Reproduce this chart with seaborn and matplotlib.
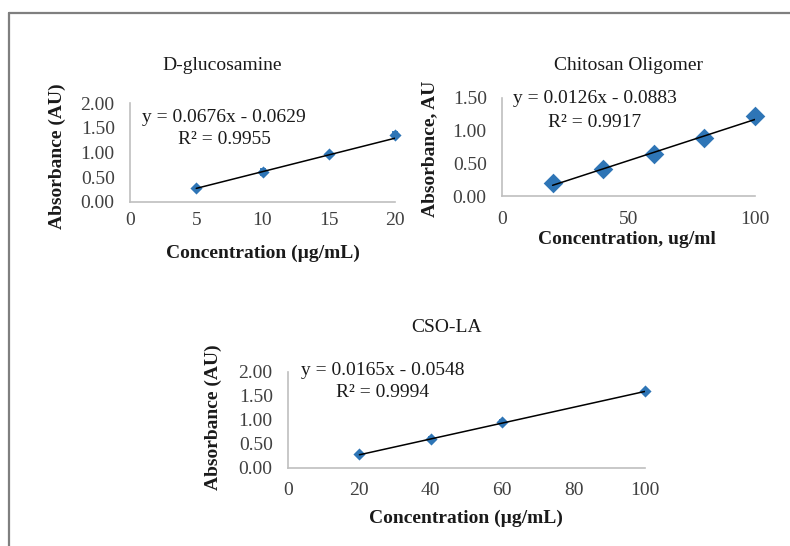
import numpy as np
import pandas as pd
import matplotlib
matplotlib.use("Agg")
import matplotlib.pyplot as plt
from matplotlib.lines import Line2D
import seaborn as sns

# ---------------- data ----------------
glc_conc = [5, 10, 15, 20]
glc_abs = [0.28, 0.60, 0.96, 1.36]
glc_err = [0.03, 0.06, 0.03, 0.06]
glc_slope, glc_icpt, glc_r2 = 0.0676, -0.0629, 0.9955

cso_conc = [20, 40, 60, 80, 100]
cso_abs = [0.20, 0.41, 0.65, 0.89, 1.22]
cso_err = [0.03, 0.05, 0.04, 0.06, 0.03]
cso_slope, cso_icpt, cso_r2 = 0.0126, -0.0883, 0.9917

csola_conc = [20, 40, 60, 100]
csola_abs = [0.29, 0.61, 0.96, 1.60]
csola_err = [0.02, 0.03, 0.03, 0.02]
csola_slope, csola_icpt, csola_r2 = 0.0165, -0.0548, 0.9994

titles = ["D-glucosamine", "Chitosan Oligomer", "CSO-LA"]
ylabels = ["Absorbance (AU)", "Absorbance, AU", "Absorbance (AU)"]
xlabels = ["Concentration (µg/mL)", "Concentration, ug/ml", "Concentration (µg/mL)"]
xticks1 = [0, 5, 10, 15, 20]
xticks2 = [0, 50, 100]
xticks3 = [0, 20, 40, 60, 80, 100]
yticks1 = [0, 0.5, 1.0, 1.5, 2.0]
yticks2 = [0, 0.5, 1.0, 1.5]
yticks3 = [0, 0.5, 1.0, 1.5, 2.0]

# ---------------- style ----------------
sns.set_theme(style="white")
plt.rcParams["font.family"] = ["Liberation Serif", "DejaVu Serif"]

W, H = 790, 546
DPI = 100
fig = plt.figure(figsize=(W / DPI, H / DPI), dpi=DPI)
fig.patch.set_facecolor("white")

BLUE = "#2E75B6"
AXC = "#BFBFBF"
FS = 14
TXT = "#1a1a1a"


def px_axes(left, right, top, bottom):
    return fig.add_axes([left / W, 1 - bottom / H, (right - left) / W, (bottom - top) / H])


def ftext(x, y, s, **kw):
    fig.text(x / W, 1 - y / H, s, **kw)


def panel(ax, conc, absb, err, slope, icpt, r2, xlim, ylim, xt, yt,
          msize, eqpos, r2pos, xpad, ypad):
    df = pd.DataFrame({"conc": conc, "abs": absb})
    xs = np.array([min(conc), max(conc)], dtype=float)
    fit = pd.DataFrame({"conc": xs, "abs": slope * xs + icpt})
    eb = ax.errorbar(conc, absb, yerr=err, fmt="none", ecolor=BLUE, elinewidth=1.3,
                     capsize=2.5, capthick=1.3, zorder=2)
    for art in eb.lines[1] + eb.lines[2]:
        art.set_clip_on(False)
    sns.scatterplot(data=df, x="conc", y="abs", ax=ax, marker="D", s=msize,
                    color=BLUE, edgecolor=BLUE, linewidth=0, zorder=3, legend=False,
                    clip_on=False)
    sns.lineplot(data=fit, x="conc", y="abs", ax=ax, color="black", linewidth=1.1,
                 zorder=4, legend=False)
    ax.set_xlim(*xlim)
    ax.set_ylim(*ylim)
    ax.set_xticks(xt)
    ax.set_xticklabels([str(v) for v in xt])
    ax.set_yticks(yt)
    ax.set_yticklabels([f"{v:.2f}" for v in yt])
    ax.set_xlabel("")
    ax.set_ylabel("")
    for s in ["top", "right"]:
        ax.spines[s].set_visible(False)
    for s in ["left", "bottom"]:
        ax.spines[s].set_color(AXC)
        ax.spines[s].set_linewidth(1.2)
    ax.tick_params(axis="x", length=0, pad=xpad, labelsize=FS, colors="#404040")
    ax.tick_params(axis="y", length=0, pad=ypad, labelsize=FS, colors="#404040")
    ax.set_facecolor("none")
    sign = "-" if icpt < 0 else "+"
    ax.text(eqpos[0], eqpos[1], f"y = {slope:.4f}x {sign} {abs(icpt):.4f}",
            transform=ax.transAxes, ha="center", va="center", fontsize=FS, color=TXT)
    ax.text(r2pos[0], r2pos[1], f"R² = {r2:.4f}",
            transform=ax.transAxes, ha="center", va="center", fontsize=FS, color=TXT)


ax1 = px_axes(130, 395, 103, 202)
panel(ax1, glc_conc, glc_abs, glc_err, glc_slope, glc_icpt, glc_r2,
      (0, 20), (0, 2.0), xticks1, yticks1, 38, (0.355, 0.85), (0.355, 0.63), 7, 11)

ax2 = px_axes(502, 755, 98, 196)
panel(ax2, cso_conc, cso_abs, cso_err, cso_slope, cso_icpt, cso_r2,
      (0, 100), (0, 1.5), xticks2, yticks2, 100, (0.368, 0.99), (0.368, 0.755), 11, 11)

ax3 = px_axes(288, 645, 372, 468)
panel(ax3, csola_conc, csola_abs, csola_err, csola_slope, csola_icpt, csola_r2,
      (0, 100), (0, 2.0), xticks3, yticks3, 38, (0.266, 1.02), (0.266, 0.79), 10, 11)

# titles
ftext(222, 65, titles[0], ha="center", va="center", fontsize=FS, color=TXT)
ftext(628, 65, titles[1], ha="center", va="center", fontsize=FS, color=TXT)
ftext(447, 328, titles[2], ha="center", va="center", fontsize=FS, color=TXT)

# axis labels
ftext(57, 156, ylabels[0], ha="center", va="center", rotation=90, fontsize=FS,
      fontweight="bold", color=TXT)
ftext(430, 149, ylabels[1], ha="center", va="center", rotation=90, fontsize=FS,
      fontweight="bold", color=TXT)
ftext(213, 417, ylabels[2], ha="center", va="center", rotation=90, fontsize=FS,
      fontweight="bold", color=TXT)
ftext(263, 253, xlabels[0], ha="center", va="center", fontsize=FS, fontweight="bold",
      color=TXT)
ftext(627, 240, xlabels[1], ha="center", va="center", fontsize=FS, fontweight="bold",
      color=TXT)
ftext(466, 518, xlabels[2], ha="center", va="center", fontsize=FS, fontweight="bold",
      color=TXT)

# outer frame (top and left edges)
fig.add_artist(Line2D([9 / W, 1.0], [1 - 13 / H, 1 - 13 / H], transform=fig.transFigure,
                      color="#7f7f7f", linewidth=1.6))
fig.add_artist(Line2D([9 / W, 9 / W], [1 - 13 / H, 0.0], transform=fig.transFigure,
                      color="#7f7f7f", linewidth=1.6))

fig.savefig("out.png", dpi=DPI, facecolor="white")
